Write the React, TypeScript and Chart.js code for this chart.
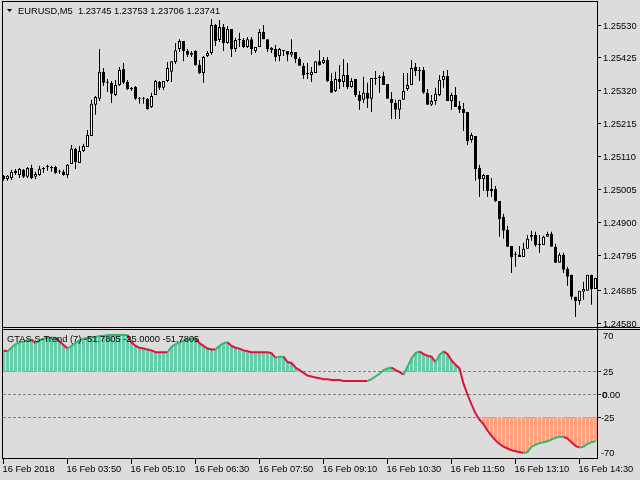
import React, { useEffect, useRef } from "react";
import { Chart, registerables } from "chart.js";

Chart.register(...registerables);

const BG = "#DCDCDC";
const TEXT = "#000000";
const FONT = '9.3px "Liberation Sans", Arial, sans-serif';
const UP_LINE = "#3CB371";
const DOWN_LINE = "#DC143C";
const UP_HIST = "#66CDAA";
const DOWN_HIST = "#FFA07A";
const LEVEL_COLOR = "#808080";

const symbolTitle = "EURUSD,M5  1.23745 1.23753 1.23706 1.23741";
const indicatorTitle = "GTAS S-Trend (7) -51.7805 -25.0000 -51.7805";

const opens = [
  1.25050, 1.25040, 1.25043, 1.25066, 1.25053, 1.25069, 1.25047, 1.25075, 1.25047, 1.25053,
  1.25072, 1.25078, 1.25075, 1.25078, 1.25066, 1.25063, 1.25053, 1.25088, 1.25136, 1.25091,
  1.25129, 1.25142, 1.25177, 1.25276, 1.25295, 1.25381, 1.25346, 1.25346, 1.25307, 1.25339,
  1.25390, 1.25349, 1.25326, 1.25333, 1.25295, 1.25295, 1.25295, 1.25269, 1.25307, 1.25349,
  1.25330, 1.25352, 1.25381, 1.25412, 1.25454, 1.25479, 1.25447, 1.25435, 1.25447, 1.25403,
  1.25377, 1.25431, 1.25441, 1.25530, 1.25482, 1.25524, 1.25473, 1.25517, 1.25454, 1.25482,
  1.25482, 1.25460, 1.25485, 1.25447, 1.25460, 1.25508, 1.25485, 1.25457, 1.25454, 1.25431,
  1.25447, 1.25447, 1.25435, 1.25444, 1.25422, 1.25400, 1.25374, 1.25371, 1.25377, 1.25415,
  1.25409, 1.25419, 1.25352, 1.25320, 1.25358, 1.25349, 1.25371, 1.25333, 1.25358, 1.25307,
  1.25292, 1.25314, 1.25295, 1.25358, 1.25361, 1.25368, 1.25342, 1.25295, 1.25282, 1.25260,
  1.25292, 1.25326, 1.25339, 1.25396, 1.25384, 1.25387, 1.25314, 1.25276, 1.25288, 1.25307,
  1.25355, 1.25368, 1.25288, 1.25307, 1.25272, 1.25263, 1.25253, 1.25164, 1.25177, 1.25075,
  1.25040, 1.25053, 1.25008, 1.25008, 1.24970, 1.24919, 1.24878, 1.24827, 1.24799, 1.24799,
  1.24792, 1.24818, 1.24856, 1.24862, 1.24834, 1.24830, 1.24856, 1.24865, 1.24824, 1.24773,
  1.24799, 1.24754, 1.24735, 1.24665, 1.24652, 1.24681, 1.24684, 1.24735, 1.24690,
];

const highs = [
  1.25053, 1.25053, 1.25069, 1.25072, 1.25075, 1.25072, 1.25078, 1.25085, 1.25063, 1.25082,
  1.25078, 1.25085, 1.25082, 1.25082, 1.25069, 1.25069, 1.25088, 1.25148, 1.25139, 1.25145,
  1.25152, 1.25196, 1.25292, 1.25304, 1.25454, 1.25393, 1.25358, 1.25352, 1.25355, 1.25396,
  1.25409, 1.25355, 1.25333, 1.25336, 1.25301, 1.25301, 1.25298, 1.25314, 1.25355, 1.25352,
  1.25352, 1.25412, 1.25415, 1.25473, 1.25485, 1.25479, 1.25454, 1.25447, 1.25450, 1.25419,
  1.25431, 1.25447, 1.25549, 1.25533, 1.25546, 1.25533, 1.25527, 1.25517, 1.25489, 1.25505,
  1.25489, 1.25492, 1.25492, 1.25460, 1.25517, 1.25530, 1.25485, 1.25460, 1.25466, 1.25457,
  1.25450, 1.25447, 1.25485, 1.25444, 1.25428, 1.25409, 1.25409, 1.25396, 1.25415, 1.25450,
  1.25428, 1.25428, 1.25377, 1.25381, 1.25403, 1.25422, 1.25409, 1.25361, 1.25358, 1.25320,
  1.25365, 1.25346, 1.25361, 1.25384, 1.25371, 1.25381, 1.25342, 1.25317, 1.25292, 1.25292,
  1.25377, 1.25377, 1.25419, 1.25409, 1.25396, 1.25396, 1.25326, 1.25307, 1.25330, 1.25371,
  1.25384, 1.25387, 1.25314, 1.25333, 1.25288, 1.25282, 1.25253, 1.25187, 1.25177, 1.25085,
  1.25056, 1.25053, 1.25043, 1.25018, 1.24970, 1.24929, 1.24891, 1.24827, 1.24808, 1.24827,
  1.24837, 1.24862, 1.24875, 1.24872, 1.24862, 1.24859, 1.24872, 1.24872, 1.24834, 1.24805,
  1.24805, 1.24761, 1.24735, 1.24665, 1.24684, 1.24713, 1.24735, 1.24735, 1.24725,
];

const lows = [
  1.25034, 1.25034, 1.25037, 1.25053, 1.25043, 1.25043, 1.25043, 1.25040, 1.25040, 1.25050,
  1.25059, 1.25066, 1.25063, 1.25056, 1.25056, 1.25050, 1.25043, 1.25088, 1.25072, 1.25091,
  1.25126, 1.25142, 1.25177, 1.25244, 1.25288, 1.25336, 1.25317, 1.25282, 1.25304, 1.25336,
  1.25342, 1.25323, 1.25320, 1.25292, 1.25279, 1.25279, 1.25260, 1.25266, 1.25307, 1.25323,
  1.25323, 1.25349, 1.25349, 1.25406, 1.25444, 1.25415, 1.25428, 1.25428, 1.25400, 1.25374,
  1.25346, 1.25428, 1.25435, 1.25463, 1.25476, 1.25447, 1.25470, 1.25428, 1.25444, 1.25460,
  1.25457, 1.25457, 1.25435, 1.25441, 1.25460, 1.25485, 1.25444, 1.25441, 1.25415, 1.25415,
  1.25431, 1.25415, 1.25428, 1.25409, 1.25400, 1.25358, 1.25358, 1.25349, 1.25377, 1.25400,
  1.25406, 1.25349, 1.25314, 1.25317, 1.25326, 1.25333, 1.25326, 1.25330, 1.25301, 1.25260,
  1.25282, 1.25266, 1.25253, 1.25339, 1.25314, 1.25339, 1.25295, 1.25231, 1.25231, 1.25231,
  1.25292, 1.25320, 1.25339, 1.25368, 1.25352, 1.25311, 1.25276, 1.25272, 1.25276, 1.25304,
  1.25330, 1.25288, 1.25260, 1.25269, 1.25250, 1.25193, 1.25148, 1.25155, 1.25034, 1.24983,
  1.25002, 1.24983, 1.24983, 1.24967, 1.24856, 1.24850, 1.24824, 1.24741, 1.24761, 1.24792,
  1.24792, 1.24818, 1.24843, 1.24824, 1.24805, 1.24830, 1.24856, 1.24824, 1.24773, 1.24773,
  1.24741, 1.24700, 1.24656, 1.24601, 1.24640, 1.24656, 1.24684, 1.24640, 1.24690,
];

const closes = [
  1.25040, 1.25050, 1.25063, 1.25059, 1.25072, 1.25047, 1.25075, 1.25043, 1.25056, 1.25072,
  1.25072, 1.25078, 1.25075, 1.25059, 1.25063, 1.25053, 1.25085, 1.25136, 1.25094, 1.25129,
  1.25145, 1.25180, 1.25279, 1.25301, 1.25381, 1.25346, 1.25346, 1.25311, 1.25339, 1.25387,
  1.25346, 1.25326, 1.25326, 1.25295, 1.25295, 1.25295, 1.25263, 1.25304, 1.25352, 1.25330,
  1.25352, 1.25393, 1.25415, 1.25450, 1.25479, 1.25447, 1.25435, 1.25441, 1.25403, 1.25377,
  1.25428, 1.25441, 1.25530, 1.25479, 1.25524, 1.25473, 1.25517, 1.25454, 1.25482, 1.25482,
  1.25460, 1.25485, 1.25454, 1.25460, 1.25508, 1.25485, 1.25454, 1.25450, 1.25428, 1.25454,
  1.25447, 1.25435, 1.25444, 1.25422, 1.25400, 1.25371, 1.25374, 1.25381, 1.25415, 1.25403,
  1.25419, 1.25352, 1.25314, 1.25358, 1.25349, 1.25371, 1.25333, 1.25352, 1.25307, 1.25288,
  1.25314, 1.25295, 1.25361, 1.25358, 1.25361, 1.25339, 1.25295, 1.25282, 1.25260, 1.25292,
  1.25320, 1.25339, 1.25393, 1.25384, 1.25384, 1.25314, 1.25276, 1.25288, 1.25311, 1.25355,
  1.25368, 1.25288, 1.25307, 1.25269, 1.25260, 1.25250, 1.25161, 1.25180, 1.25072, 1.25040,
  1.25053, 1.25002, 1.25002, 1.24970, 1.24913, 1.24875, 1.24824, 1.24792, 1.24799, 1.24792,
  1.24818, 1.24850, 1.24862, 1.24830, 1.24830, 1.24856, 1.24865, 1.24824, 1.24773, 1.24799,
  1.24751, 1.24729, 1.24665, 1.24652, 1.24684, 1.24690, 1.24735, 1.24690, 1.24725,
];

const trend = [
  49, 48, 52, 56, 58, 59, 60, 61, 57, 60,
  62, 63, 63, 63, 59, 55, 51, 54, 57, 60,
  62, 63, 64, 64, 65, 65, 66, 66, 66, 66,
  66, 66, 58, 54, 52, 51, 50, 49, 47, 47,
  47, 47, 53, 56, 58, 60, 61, 62, 62, 57,
  54, 51, 50, 50, 54, 57, 58, 54, 52, 51,
  49, 48, 47, 47, 47, 47, 47, 46, 41, 42,
  42, 36, 35, 30, 27, 24, 21, 20, 19, 18,
  17, 17, 16, 16, 16, 15, 15, 15, 15, 15,
  15, 15, 17, 20, 23, 27, 29, 30, 27, 25,
  22, 31, 40, 46, 48, 45, 43, 42, 36, 44,
  48, 45, 38, 33, 29, 12, 0, -11, -21, -28,
  -33, -40, -46, -51, -55, -58, -60, -62, -63, -64,
  -65, -64, -58, -56, -54, -53, -52, -50, -48, -47,
  -47, -49, -53, -57, -59, -58, -55, -53, -52,
];

const priceTicks = [1.2553, 1.25425, 1.2532, 1.25215, 1.2511, 1.25005, 1.249, 1.24795, 1.24685, 1.2458];
const priceTickLabels = ["1.25530", "1.25425", "1.25320", "1.25215", "1.25110", "1.25005", "1.24900", "1.24795", "1.24685", "1.24580"];
const levelValues = [25, 0, -25];
const indTicks = [70, 25, 0, -25, -70];
const indTickLabels = ["70", "25", "0.00", "-25", "-70"];
const timeTickIdx = [0, 16, 32, 48, 64, 80, 96, 112, 128, 144];
const timeTickLabels = [
  "16 Feb 2018", "16 Feb 03:50", "16 Feb 05:10", "16 Feb 06:30", "16 Feb 07:50",
  "16 Feb 09:10", "16 Feb 10:30", "16 Feb 11:50", "16 Feb 13:10", "16 Feb 14:30",
];

const PRICE_MIN = 1.245689;
const PRICE_MAX = 1.256032;
const IND_MIN = -70;
const IND_MAX = 70;
const X_MIN = -0.375;
const X_MAX = 148.375;

const mainDecor = {
  id: "mainDecor",
  afterDraw(chart: any) {
    const ctx = chart.ctx as CanvasRenderingContext2D;
    const ys = chart.scales.y;
    ctx.save();
    ctx.strokeStyle = "#000";
    ctx.lineWidth = 1;
    ctx.beginPath();
    ctx.moveTo(2, 1.5); ctx.lineTo(598, 1.5);
    ctx.moveTo(2.5, 1); ctx.lineTo(2.5, 328);
    ctx.moveTo(597.5, 1); ctx.lineTo(597.5, 328);
    ctx.moveTo(2, 327.5); ctx.lineTo(640, 327.5);
    const rows: number[] = [];
    priceTicks.forEach((v) => {
      const py = Math.floor(ys.getPixelForValue(v)) + 0.5;
      rows.push(py);
      ctx.moveTo(598, py); ctx.lineTo(601, py);
    });
    ctx.stroke();
    ctx.fillStyle = TEXT;
    ctx.font = FONT;
    ctx.textAlign = "left";
    ctx.textBaseline = "alphabetic";
    priceTickLabels.forEach((lbl, i) => {
      ctx.fillText(lbl, 603, rows[i] + 3.3);
    });
    // header
    ctx.beginPath();
    ctx.moveTo(7, 9); ctx.lineTo(12, 9); ctx.lineTo(9.5, 12); ctx.closePath();
    ctx.fill();
    ctx.fillText(symbolTitle, 18, 14);
    ctx.restore();
  },
};

const indDecor = {
  id: "indDecor",
  beforeDatasetsDraw(chart: any) {
    const ctx = chart.ctx as CanvasRenderingContext2D;
    const ys = chart.scales.y;
    ctx.save();
    ctx.strokeStyle = LEVEL_COLOR;
    ctx.lineWidth = 1;
    ctx.setLineDash([3, 2]);
    ctx.beginPath();
    levelValues.forEach((lv) => {
      const py = Math.floor(ys.getPixelForValue(lv)) + 0.5;
      ctx.moveTo(3, py); ctx.lineTo(597, py);
    });
    ctx.stroke();
    ctx.restore();
  },
  afterDraw(chart: any) {
    const ctx = chart.ctx as CanvasRenderingContext2D;
    const ys = chart.scales.y;
    const xs = chart.scales.x;
    ctx.save();
    ctx.strokeStyle = "#000";
    ctx.lineWidth = 1;
    ctx.beginPath();
    ctx.moveTo(2, 1.5); ctx.lineTo(640, 1.5);
    ctx.moveTo(2.5, 0); ctx.lineTo(2.5, 131);
    ctx.moveTo(597.5, 0); ctx.lineTo(597.5, 131);
    ctx.moveTo(2, 130.5); ctx.lineTo(598, 130.5);
    levelValues.forEach((lv) => {
      const py = Math.floor(ys.getPixelForValue(lv)) + 0.5;
      ctx.moveTo(598, py); ctx.lineTo(601, py);
    });
    const cols: number[] = [];
    timeTickIdx.forEach((idx) => {
      const px = Math.floor(xs.getPixelForValue(idx)) + 0.5;
      cols.push(px);
      ctx.moveTo(px, 131); ctx.lineTo(px, 136);
    });
    ctx.stroke();

    ctx.fillStyle = TEXT;
    ctx.font = FONT;
    ctx.textAlign = "left";
    ctx.textBaseline = "alphabetic";
    indTicks.forEach((v, i) => {
      const py = ys.getPixelForValue(v);
      const base = Math.min(128, Math.max(11, Math.floor(py) + 0.5 + 3.3));
      const lbl = indTickLabels[i];
      const lx = lbl.startsWith("-") ? 601 : lbl === "0.00" ? 602 : 603;
      ctx.fillText(lbl, lx, base);
      if (lbl === "0.00") ctx.fillText("0", lx + 0.5, base);
    });
    timeTickLabels.forEach((lbl, i) => {
      ctx.fillText(lbl, cols[i] - 1, 143.5);
    });
    ctx.fillText(indicatorTitle, 7, 14);
    ctx.restore();
  },
};

export default function App() {
  const mainRef = useRef<HTMLCanvasElement>(null);
  const indRef = useRef<HTMLCanvasElement>(null);

  useEffect(() => {
    document.body.style.margin = "0";
    document.body.style.background = BG;

    const bodyColors = opens.map((o, i) => (closes[i] > o ? "#FFFFFF" : "#000000"));

    const main = new Chart(mainRef.current as HTMLCanvasElement, {
      type: "bar",
      data: {
        datasets: [
          {
            label: "body",
            data: opens.map((o, i) => ({ x: i, y: [o, closes[i]] })) as any,
            backgroundColor: bodyColors,
            borderColor: "#000000",
            borderWidth: 1,
            borderSkipped: false,
            barThickness: 3,
            minBarLength: 1,
            inflateAmount: 0,
            grouped: false,
            order: 0,
          } as any,
          {
            label: "wick",
            data: lows.map((l, i) => ({ x: i, y: [l, highs[i]] })) as any,
            backgroundColor: "#000000",
            borderWidth: 0,
            barThickness: 1,
            inflateAmount: 0,
            grouped: false,
            order: 1,
          } as any,
        ],
      },
      options: {
        responsive: false,
        animation: false,
        events: [],
        layout: { padding: { left: 2, top: 2, right: 43, bottom: 1 } },
        plugins: { legend: { display: false }, tooltip: { enabled: false } },
        scales: {
          x: { type: "linear", min: X_MIN, max: X_MAX, display: false, offset: false },
          y: { type: "linear", min: PRICE_MIN, max: PRICE_MAX, display: false },
        },
      } as any,
      plugins: [mainDecor],
    });

    const up: boolean[] = [];
    trend.forEach((v, i) => {
      if (i === 0) up.push(false);
      else if (v > trend[i - 1]) up.push(true);
      else if (v < trend[i - 1]) up.push(false);
      else up.push(up[i - 1]);
    });

    const greenData = trend.map((v, i) => ({ x: i, y: [25, v] })).filter((d) => d.y[1] > 25);
    const orangeData = trend.map((v, i) => ({ x: i, y: [-25, v] })).filter((d) => d.y[1] < -25);

    const ind = new Chart(indRef.current as HTMLCanvasElement, {
      type: "bar",
      data: {
        datasets: [
          {
            type: "line",
            label: "trend",
            data: trend.map((v, i) => ({ x: i, y: v })),
            borderColor: DOWN_LINE,
            borderWidth: 2,
            pointRadius: 0,
            tension: 0,
            segment: {
              borderColor: (c: any) => (up[c.p1DataIndex] ? UP_LINE : DOWN_LINE),
            },
            order: 0,
          } as any,
          {
            label: "up",
            data: greenData as any,
            backgroundColor: UP_HIST,
            borderWidth: 0,
            barThickness: 3,
            inflateAmount: 0,
            grouped: false,
            order: 1,
          } as any,
          {
            label: "down",
            data: orangeData as any,
            backgroundColor: DOWN_HIST,
            borderWidth: 0,
            barThickness: 3,
            inflateAmount: 0,
            grouped: false,
            order: 2,
          } as any,
        ],
      },
      options: {
        responsive: false,
        animation: false,
        events: [],
        layout: { padding: { left: 2, top: 3.5, right: 43, bottom: 22.5 } },
        plugins: { legend: { display: false }, tooltip: { enabled: false } },
        scales: {
          x: { type: "linear", min: X_MIN, max: X_MAX, display: false, offset: false },
          y: { type: "linear", min: IND_MIN, max: IND_MAX, display: false },
        },
      } as any,
      plugins: [indDecor],
    });

    return () => {
      main.destroy();
      ind.destroy();
    };
  }, []);

  return (
    <div style={{ position: "relative", width: 640, height: 480, background: BG, overflow: "hidden" }}>
      <canvas ref={mainRef} width={640} height={328} style={{ position: "absolute", left: 0, top: 0 }} />
      <canvas ref={indRef} width={640} height={152} style={{ position: "absolute", left: 0, top: 328 }} />
    </div>
  );
}
